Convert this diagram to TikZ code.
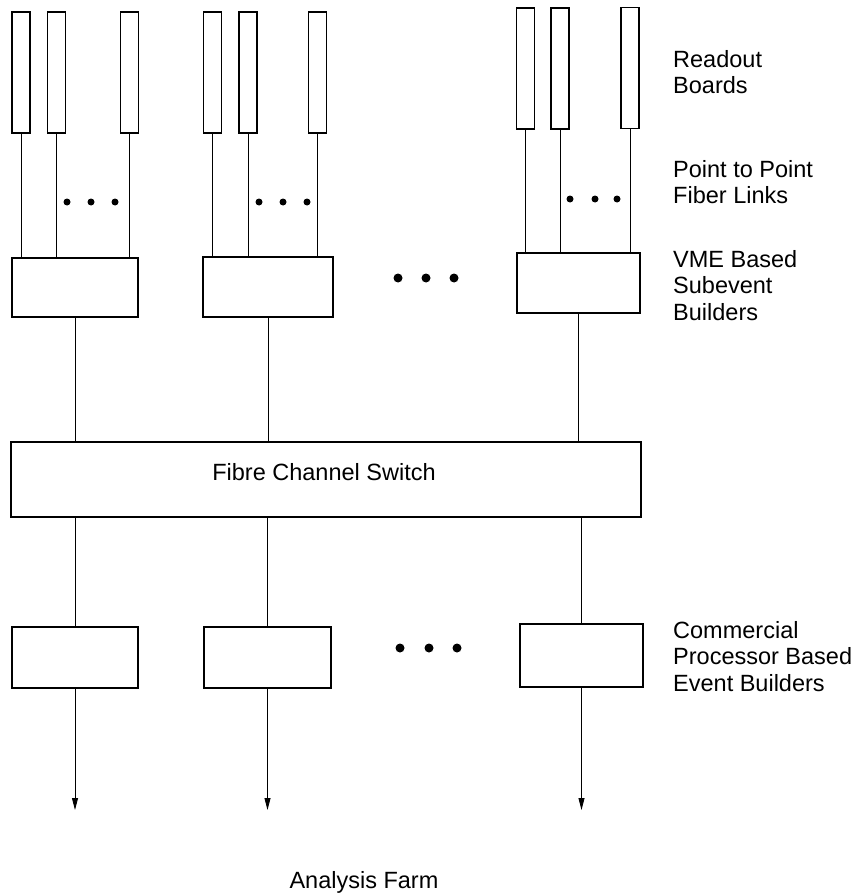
\documentclass[tikz,border=0pt]{standalone}
\usepackage{fontspec}
\setmainfont{Liberation Sans}
\usetikzlibrary{arrows.meta}
\begin{document}
\begin{tikzpicture}[x=1pt,y=-1pt,
  board/.style={draw, line width=1.4pt, inner sep=0pt, outer sep=0pt, minimum width=18pt, minimum height=121pt},
  blk/.style={draw, line width=1.4pt, inner sep=0pt, outer sep=0pt},
  link/.style={line width=0.9pt},
  arr/.style={line width=0.9pt, -{Triangle[length=12pt,width=6pt]}},
  lbl/.style={anchor=north west, inner sep=0pt, align=left, font=\fontsize{23.5}{26.5}\selectfont},
  ctext/.style={anchor=base, inner sep=0pt, font=\fontsize{23.5}{26.5}\selectfont},
  sdot/.style={fill=black, draw=none, circle, inner sep=0pt, minimum size=7pt},
  bdot/.style={fill=black, draw=none, circle, inner sep=0pt, minimum size=9pt}]
\useasboundingbox (0,0) rectangle (865,896);

% readout boards
\node[board] (b11) at (21,72.5) {};
\node[board] (b12) at (56.5,72.5) {};
\node[board] (b13) at (129.5,72.5) {};
\node[board] (b21) at (212.5,72.5) {};
\node[board] (b22) at (248,72.5) {};
\node[board] (b23) at (317.5,72.5) {};
\node[board] (b31) at (525.5,68.5) {};
\node[board] (b32) at (560,68.5) {};
\node[board] (b33) at (630,68) {};

% subevent builders
\node[blk, minimum width=126pt, minimum height=59pt] (s1) at (75,287.5) {};
\node[blk, minimum width=130pt, minimum height=60pt] (s2) at (268,287) {};
\node[blk, minimum width=123pt, minimum height=60pt] (s3) at (578.5,283) {};

% switch
\node[blk, minimum width=630pt, minimum height=75pt] (sw) at (326,479.5) {};
\node[ctext] (swt) at (324,480) {Fibre Channel Switch};

% event builders
\node[blk, minimum width=126pt, minimum height=61pt] (e1) at (75,657.5) {};
\node[blk, minimum width=127pt, minimum height=61pt] (e2) at (267.5,657.5) {};
\node[blk, minimum width=123pt, minimum height=63pt] (e3) at (581.5,655.5) {};

\coordinate (farm) at (0,810);

% fiber links
\foreach \b/\s in {b11/s1,b12/s1,b13/s1,b21/s2,b22/s2,b23/s2,b31/s3,b32/s3,b33/s3}
  \draw[link] (\b.south) -- (\b.south |- \s.north);

% builders to switch
\foreach \s in {s1,s2,s3}
  \draw[link] (\s.south) -- (\s.south |- sw.north);

% switch to event builders
\foreach \e in {e1,e2,e3}
  \draw[link] (\e.north |- sw.south) -- (\e.north);

% arrows to farm
\foreach \e in {e1,e2,e3}
  \draw[arr] (\e.south) -- (\e.south |- farm);

% dots
\node[sdot] (d11) at (67,202) {};
\node[sdot] (d12) at (91,202) {};
\node[sdot] (d13) at (115,202) {};
\node[sdot] (d21) at (259,202) {};
\node[sdot] (d22) at (283,202) {};
\node[sdot] (d23) at (307,202) {};
\node[sdot] (d31) at (570,199) {};
\node[sdot] (d32) at (595,199) {};
\node[sdot] (d33) at (617,199) {};
\node[bdot] (m1) at (398,278) {};
\node[bdot] (m2) at (426,278) {};
\node[bdot] (m3) at (454,278) {};
\node[bdot] (n1) at (400,648) {};
\node[bdot] (n2) at (429,648) {};
\node[bdot] (n3) at (457,648) {};

% labels
\node[lbl] (l1) at (673,50) {Readout\\Boards};
\node[lbl] (l2) at (673,160) {Point to Point\\Fiber Links};
\node[lbl] (l3) at (673,250) {VME Based\\Subevent\\Builders};
\node[lbl] (l4) at (673,621) {Commercial\\Processor Based\\Event Builders};
\node[ctext] (l5) at (364,888) {Analysis Farm};
\end{tikzpicture}
\end{document}
